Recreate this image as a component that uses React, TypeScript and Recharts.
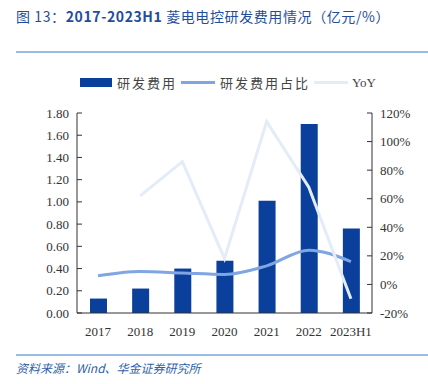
import { ComposedChart, Bar, Line, XAxis, YAxis } from "recharts";

const years = ["2017", "2018", "2019", "2020", "2021", "2022", "2023H1"];
const rdExpense = [0.13, 0.22, 0.4, 0.47, 1.01, 1.7, 0.76];
const rdRatio = [6, 9, 8, 7, 13, 24, 16];
const rdYoY = [null, 62, 86, 18, 114, 68, -10];

const leftTicks = [0, 0.2, 0.4, 0.6, 0.8, 1.0, 1.2, 1.4, 1.6, 1.8];
const rightTicks = [-20, 0, 20, 40, 60, 80, 100, 120];

const data = years.map((y, i) => ({
  year: y,
  expense: rdExpense[i],
  ratio: rdRatio[i],
  yoy: rdYoY[i],
}));

const BAR = "#0A3F9C";
const RATIO = "#7FA6E2";
const YOY = "#E3ECF8";
const AXIS = "#333";
const tickFont = "'Liberation Serif', 'DejaVu Serif', serif";

// ticks drawn on the inner side of the axis line
const LeftTick = (props: any) => {
  const { x, y, payload } = props;
  return (
    <g>
      <line x1={x + 8} x2={x + 13} y1={y} y2={y} stroke={AXIS} />
      <text x={x} y={y} dy={4.5} textAnchor="end" fontSize={13} fill="#333" fontFamily={tickFont}>
        {payload.value.toFixed(2)}
      </text>
    </g>
  );
};

const RightTick = (props: any) => {
  const { x, y, payload } = props;
  return (
    <g>
      <line x1={x - 8} x2={x - 13} y1={y} y2={y} stroke={AXIS} />
      <text x={x} y={y} dy={4.5} textAnchor="start" fontSize={13} fill="#333" fontFamily={tickFont}>
        {payload.value + "%"}
      </text>
    </g>
  );
};

export default function App() {
  return (
    <div
      style={{
        position: "absolute",
        left: 0,
        top: 0,
        width: 428,
        height: 384,
        background: "#fff",
        fontFamily: "'Noto Sans CJK SC', sans-serif",
      }}
    >
      <div style={{ position: "absolute", left: 16, top: 6, fontSize: 14, color: "#1F4E9A", whiteSpace: "nowrap", letterSpacing: 0.6 }}>
        图 13：<b>2017-2023H1</b> 菱电电控研发费用情况（亿元/%）
      </div>
      <div style={{ position: "absolute", left: 16, right: 0, top: 51, height: 2, background: "#9BBCE4" }} />

      {/* legend */}
      <div style={{ position: "absolute", left: 80, top: 73, display: "flex", alignItems: "center", fontSize: 13, color: "#444", whiteSpace: "nowrap" }}>
        <span style={{ width: 32, height: 9, background: BAR, display: "inline-block", marginRight: 5 }} />
        <span style={{ letterSpacing: 2 }}>研发费用</span>
        <span style={{ width: 34, height: 3, background: RATIO, display: "inline-block", margin: "0 5px 0 4px" }} />
        <span style={{ letterSpacing: 2 }}>研发费用占比</span>
        <span style={{ width: 34, height: 3, background: YOY, display: "inline-block", margin: "0 4px 0 4px" }} />
        <span style={{ fontFamily: tickFont }}>YoY</span>
      </div>

      <div style={{ position: "absolute", left: 0, top: 0 }}>
        <ComposedChart width={428} height={384} data={data} margin={{ top: 113, right: 0, left: 0, bottom: 41 }} barCategoryGap={12}>
          <XAxis
            dataKey="year"
            height={30}
            tickLine={false}
            axisLine={{ stroke: AXIS }}
            tick={{ fontSize: 13, fill: "#333", fontFamily: tickFont }}
            tickMargin={8}
            interval={0}
          />
          <YAxis
            yAxisId="left"
            width={77}
            domain={[0, 1.8]}
            ticks={leftTicks}
            tickLine={false}
            tickSize={0}
            tickMargin={8}
            axisLine={{ stroke: AXIS }}
            tick={<LeftTick />}
            interval={0}
          />
          <YAxis
            yAxisId="right"
            orientation="right"
            width={56}
            domain={[-20, 120]}
            ticks={rightTicks}
            tickLine={false}
            tickSize={0}
            tickMargin={8}
            axisLine={{ stroke: AXIS }}
            tick={<RightTick />}
            interval={0}
          />
          <Bar yAxisId="left" dataKey="expense" fill={BAR} barSize={17} isAnimationActive={false} />
          <Line yAxisId="right" dataKey="ratio" stroke={RATIO} strokeWidth={3} dot={false} type="monotone" isAnimationActive={false} />
          <Line yAxisId="right" dataKey="yoy" stroke={YOY} strokeWidth={3} dot={false} isAnimationActive={false} />
        </ComposedChart>
      </div>

      <div style={{ position: "absolute", left: 16, right: 0, top: 354, height: 2, background: "#9BBCE4" }} />
      <div style={{ position: "absolute", left: 16, top: 359, fontSize: 12, color: "#2F5FA8", fontStyle: "italic", whiteSpace: "nowrap" }}>
        资料来源：Wind、华金证券研究所
      </div>
    </div>
  );
}
